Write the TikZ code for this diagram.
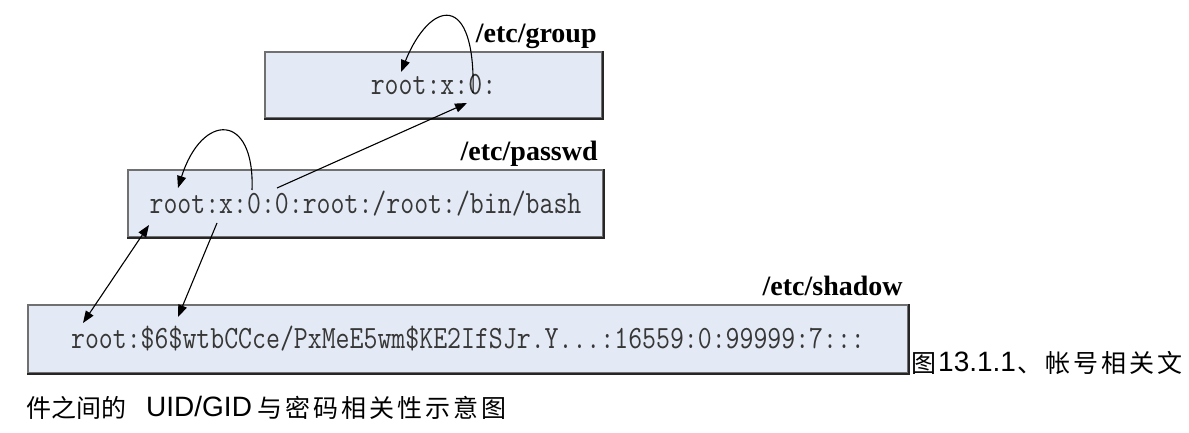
\documentclass[tikz,border=0pt]{standalone}
\usepackage{fontspec}
\usepackage{graphicx}
\setmainfont{Liberation Serif}
\newfontfamily\sansf{Liberation Sans}
\newfontfamily\cjk{Noto Sans CJK SC}
\newfontfamily\cjkls[LetterSpace=12]{Noto Sans CJK SC}
\usetikzlibrary{arrows.meta,calc}
\definecolor{boxfill}{RGB}{228,234,245}
\definecolor{boxline}{RGB}{112,112,112}
\definecolor{monotext}{RGB}{55,55,55}
\newcommand{\filetext}[1]{\scalebox{1}[1.2]{#1}}
\begin{document}
\begin{tikzpicture}[x=1pt,y=-1pt,
  filebox/.style={draw=boxline, line width=1.6pt, fill=boxfill, inner sep=0pt,
    font=\ttfamily\fontsize{27.05}{30}\selectfont, text=monotext},
  boxshade/.style={draw=black!85, line width=2pt},
  filelabel/.style={font=\bfseries\fontsize{28}{32}\selectfont, inner sep=0pt, anchor=base east},
  conn/.style={line width=1.1pt, -{Triangle[length=12pt,width=9pt]}},
  biconn/.style={line width=1.1pt, {Triangle[length=12pt,width=9pt]}-{Triangle[length=12pt,width=9pt]}},
  captext/.style={inner sep=0pt, anchor=base west}]
\useasboundingbox (0,0) rectangle (1189,433);

% boxes
\node[filebox, minimum width=337pt, minimum height=66pt] (group) at (433.5,85) {\filetext{root:x:0:}};
\node[filebox, minimum width=475pt, minimum height=67pt] (passwd) at (365.5,203.5) {\filetext{root:x:0:0:root:/root:/bin/bash}};
\node[filebox, minimum width=880pt, minimum height=68pt] (shadow) at (468,339) {\filetext{root:\$6\$wtbCCce/PxMeE5wm\$KE2IfSJr.Y...:16559:0:99999:7:::}};
\draw[boxshade] (group.north east) -- (group.south east) -- (group.south west);
\draw[boxshade] (passwd.north east) -- (passwd.south east) -- (passwd.south west);
\draw[boxshade] (shadow.north east) -- (shadow.south east) -- (shadow.south west);

% labels
\node[filelabel] (glabel) at ($(group.north east)+(-6,-9)$) {/etc/group};
\node[filelabel] (plabel) at ($(passwd.north east)+(-6,-9)$) {/etc/passwd};
\node[filelabel] (slabel) at ($(shadow.north east)+(-6,-9)$) {/etc/shadow};

% connector end points
\coordinate (gzero) at (473,93);
\coordinate (groot) at (401,72);
\coordinate (pzero) at (252,190);
\coordinate (proot) at (178,188);
\coordinate (pgid) at (277,188);
\coordinate (ggid) at (467,103);
\coordinate (puser) at (149,225);
\coordinate (suser) at (83,323);
\coordinate (ppw) at (217,223);
\coordinate (spw) at (178,317);

\draw[conn] (gzero) .. controls (476,-10) and (430,0) .. (groot);
\draw[conn] (pzero) .. controls (255,112) and (202,112) .. (proot);
\draw[conn] (pgid) -- (ggid);
\draw[biconn] (puser) -- (suser);
\draw[conn] (ppw) -- (spw);

% caption
\node[captext, font=\cjk\fontsize{25}{28}\selectfont] (c1a) at (911,372) {图};
\node[captext, font=\sansf\fontsize{28}{30}\selectfont] (c1b) at (938,371) {13.1.1};
\node[captext, font=\cjkls\fontsize{25}{28}\selectfont] (c1c) at (1017,372) {、帐号相关文};
\node[captext, font=\cjk\fontsize{25}{28}\selectfont] (c2a) at (26,417) {件之间的};
\node[captext, font=\sansf\fontsize{28}{30}\selectfont] (c2b) at (146,416) {UID/GID};
\node[captext, font=\cjkls\fontsize{25}{28}\selectfont] (c2c) at (257,417) {与密码相关性示意图};
\end{tikzpicture}
\end{document}
